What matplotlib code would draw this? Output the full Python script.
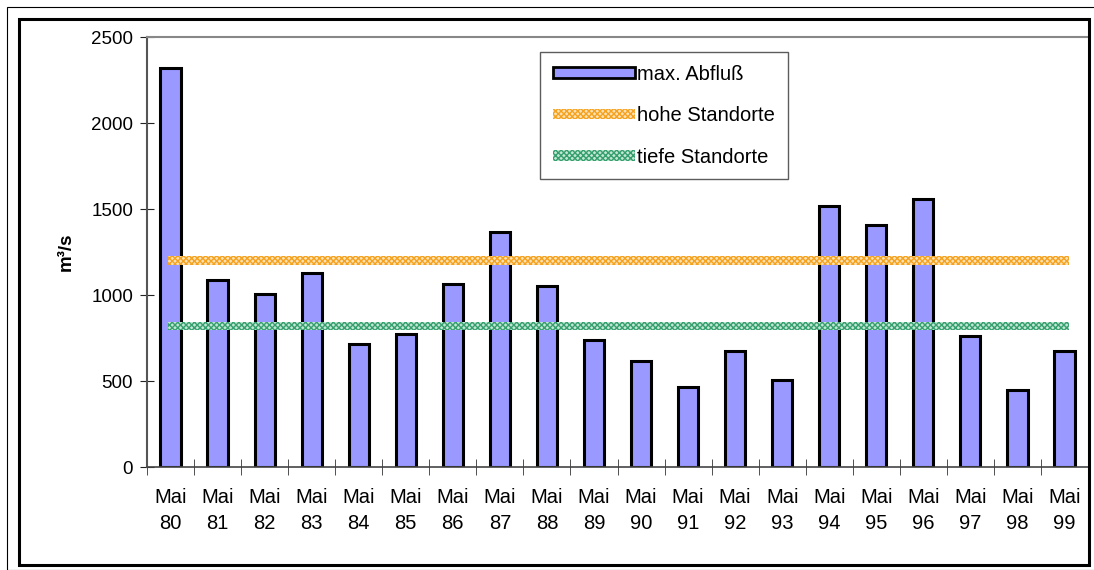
import matplotlib
matplotlib.use("Agg")
import matplotlib.pyplot as plt
from matplotlib.patches import Rectangle, Patch
import numpy as np

plt.rcParams['font.family'] = ['Liberation Sans', 'DejaVu Sans']
plt.rcParams['hatch.linewidth'] = 1.0

# data
years = ["80", "81", "82", "83", "84", "85", "86", "87", "88", "89",
         "90", "91", "92", "93", "94", "95", "96", "97", "98", "99"]
abfluss = [2320, 1090, 1003, 1128, 717, 773, 1062, 1368, 1055, 740,
           617, 465, 677, 503, 1518, 1408, 1560, 760, 445, 672]
hohe = 1200
tiefe = 818
labels = ["Mai\n" + y for y in years]

fig = plt.figure(figsize=(10.94, 5.70), dpi=100)
W, H = 1094, 570

# outer frames
fig.patches.append(Rectangle((7 / W, 0), 1.2, 1 - 7 / H, transform=fig.transFigure,
                             fill=False, ec='black', lw=0.8))
fig.patches.append(Rectangle((19 / W, 1 - 565 / H), (1089 - 19) / W, (565 - 19) / H,
                             transform=fig.transFigure, fill=False, ec='black', lw=2.2))

ax = fig.add_axes([147 / W, 1 - 467 / H, (1088 - 147) / W, (467 - 37) / H])
x = np.arange(len(years))
ax.bar(x, abfluss, width=0.43, color='#9999FF', edgecolor='black', linewidth=2.2,
       label='max. Abfluß', zorder=2)

orange_face, orange_edge = '#FDE2B8', '#F5A21E'
teal_face, teal_edge = '#C4E6D5', '#35A06E'
ax.fill_between([x[0] - 0.05, x[-1] + 0.1], hohe - 24, hohe + 24, facecolor=orange_face,
                edgecolor=orange_edge, hatch='xxxxxx', linewidth=0, zorder=3)
ax.fill_between([x[0] - 0.05, x[-1] + 0.1], tiefe - 24, tiefe + 24, facecolor=teal_face,
                edgecolor=teal_edge, hatch='xxxxxx', linewidth=0, zorder=3)

ax.set_xlim(-0.5, len(years) - 0.5)
ax.set_ylim(0, 2500)
ax.set_yticks([0, 500, 1000, 1500, 2000, 2500])
ax.set_xticks(x)
ax.set_xticklabels(labels, fontsize=14.5, linespacing=1.5)
ax.set_xticks(np.arange(-0.5, len(years), 1), minor=True)
ax.tick_params(axis='x', which='major', length=0, pad=15)
ax.tick_params(axis='x', which='minor', length=11, direction='inout', color='#333333')
ax.tick_params(axis='y', labelsize=13.5, length=10, direction='inout', color='#222222', pad=5)
ax.set_ylabel('m³/s', fontsize=13.5, fontweight='bold', labelpad=12)

ax.spines['right'].set_visible(False)
ax.spines['top'].set_color('#888888')
ax.spines['top'].set_linewidth(1.5)
ax.spines['left'].set_color('#555555')
ax.spines['left'].set_linewidth(1.5)
ax.spines['bottom'].set_color('#444444')
ax.spines['bottom'].set_linewidth(1.2)

handles = [Patch(facecolor='#9999FF', edgecolor='black', linewidth=2),
           Patch(facecolor=orange_face, edgecolor=orange_edge, hatch='xxxxxx', linewidth=0),
           Patch(facecolor=teal_face, edgecolor=teal_edge, hatch='xxxxxx', linewidth=0)]
leg = ax.legend(handles, ['max. Abfluß', 'hohe Standorte', 'tiefe Standorte'],
                loc='upper left', bbox_to_anchor=((540 - 147) / 941, 1 - (52 - 37) / 430),
                fontsize=14.5, frameon=True, fancybox=False, edgecolor='#333333',
                handlelength=4.1, handleheight=0.45, handletextpad=0.1,
                labelspacing=1.12, borderpad=0.63, borderaxespad=0)
leg.get_frame().set_linewidth(1.0)

plt.savefig('out.png', dpi=100)
